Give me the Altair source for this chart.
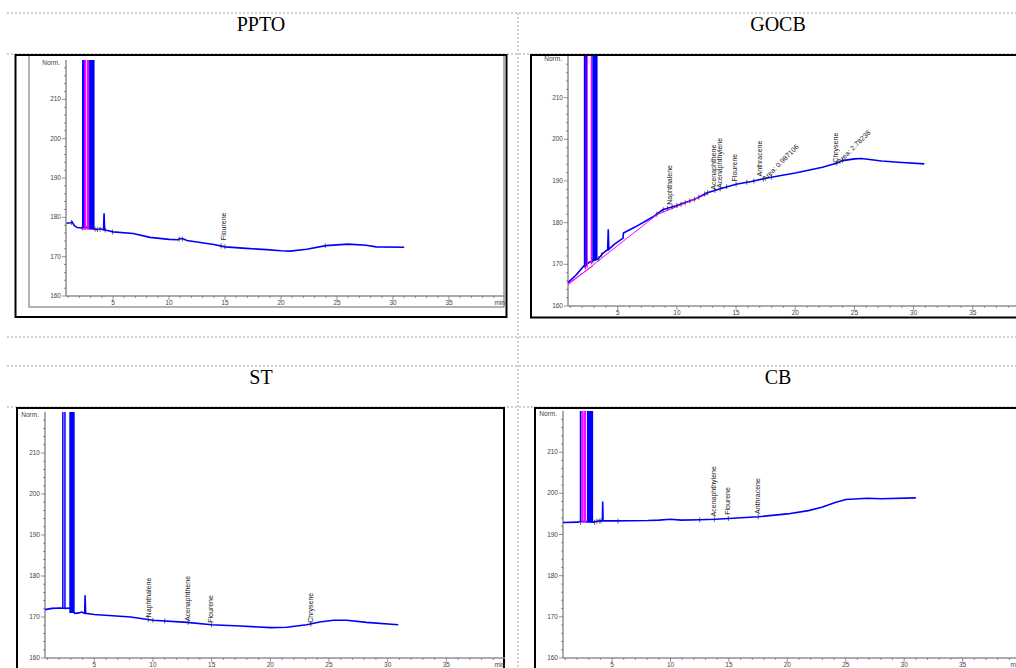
import altair as alt
import pandas as pd

W, H = 1016, 668
BLUE = "#0000ff"
MAGENTA = "#ff00ff"
T_DOMAIN = [0.8, 40]
Y_DOMAIN = [160, 220]

# axis tick positions (minutes / Norm.)
X_MAJOR = [5, 10, 15, 20, 25, 30, 35]
X_MINOR = [m for m in range(1, 41) if m % 5 != 0]
Y_MAJOR = [160, 170, 180, 190, 200, 210]
Y_MINOR = [v for v in range(160, 221, 2) if v % 10 != 0]

# ---------------- PPTO ----------------
ppto_t = [0.85, 1.2, 1.35, 1.55, 1.8, 2.2, 2.6, 3.35, 3.6, 3.9, 4.15, 4.2, 4.25, 4.6, 5.0,
          6.8, 8.3, 10.0, 10.8, 11.0, 11.3, 11.6, 12.8, 14.0, 15.0, 16.9, 18.7, 20.0, 20.8,
          22.3, 24.0, 25.0, 26.0, 27.6, 28.5, 31.0]
ppto_v = [178.5, 178.6, 178.8, 177.9, 177.4, 177.3, 177.5, 177.0, 176.9, 177.1, 176.8, 181.0,
          176.8, 176.6, 176.3, 175.9, 174.9, 174.4, 174.3, 174.6, 174.5, 174.1, 173.6, 173.1,
          172.5, 172.1, 171.8, 171.5, 171.4, 171.9, 172.8, 173.0, 173.2, 172.9, 172.5, 172.4]
ppto_spike_t = [2.30, 2.36]
ppto_spike_base = [177.3, 177.3]
ppto_spike_peak = [300, 300]
ppto_band_t0 = [2.86]
ppto_band_t1 = [3.35]
ppto_band_base = [177.0]
ppto_band_peak = [300]
ppto_mrule_t = [2.46, 2.54, 2.73, 2.82]
ppto_mrule_base = [177.0, 177.0, 177.0, 177.0]
ppto_mrule_peak = [300, 300, 300, 300]
ppto_mline_seg = [0, 0]
ppto_mline_t = [2.25, 3.35]
ppto_mline_v = [177.0, 177.0]
ppto_mark_t = [1.3, 2.25, 3.4, 3.6, 3.85, 4.3, 4.95, 10.9, 11.2, 14.65, 15.0, 23.95]
ppto_mark_v = [178.7, 177.3, 177.0, 176.9, 177.0, 176.8, 176.3, 174.4, 174.5, 172.7, 172.5, 172.8]
ppto_lab = ["Flourene"]
ppto_lab_t = [14.95]
ppto_lab_v = [174.2]
ppto_area = []
ppto_area_t = []
ppto_area_v = []

# ---------------- GOCB ----------------
gocb_t = [0.8, 1.5, 2.1, 2.6, 3.35, 3.7, 4.0, 4.15, 4.2, 4.25, 4.7, 5.45, 5.48, 6.5, 8.1,
          8.8, 10.0, 11.5, 12.5, 13.75, 15.0, 16.3, 17.4, 18.8, 20.0, 22.3, 23.55, 24.0,
          25.0, 25.6, 27.3, 28.7, 30.9]
gocb_v = [165.6, 167.5, 169.5, 170.5, 171.3, 172.5, 173.2, 173.5, 178.4, 173.6, 174.8, 176.3,
          177.5, 179.0, 181.6, 183.1, 184.1, 185.6, 187.1, 188.2, 189.2, 189.9, 190.6, 191.3,
          191.9, 193.3, 194.3, 194.9, 195.3, 195.4, 194.8, 194.5, 194.1]
gocb_spike_t = [2.20, 2.34]
gocb_spike_base = [169.3, 169.6]
gocb_spike_peak = [300, 300]
gocb_band_t0 = [2.85]
gocb_band_t1 = [3.30]
gocb_band_base = [171.0]
gocb_band_peak = [300]
gocb_mrule_t = [2.27, 2.42, 2.78]
gocb_mrule_base = [168.8, 169.2, 170.0]
gocb_mrule_peak = [300, 300, 300]
gocb_mline_seg = [0, 0, 1, 1, 2, 2]
gocb_mline_t = [0.8, 8.3, 0.8, 2.9, 8.3, 12.6]
gocb_mline_v = [165.1, 181.9, 165.4, 169.6, 181.9, 186.9]
gocb_mark_t = [2.9, 3.4, 3.65, 8.3, 8.85, 9.2, 9.6, 10.0, 10.35, 10.7, 11.1, 11.5, 11.85,
               12.35, 12.6, 13.2, 13.65, 14.2, 15.0, 15.9, 16.5, 17.3, 18.0, 23.5, 24.0]
gocb_mark_v = [170.8, 171.4, 172.3, 182.0, 183.1, 183.4, 183.8, 184.1, 184.4, 184.8, 185.2,
               185.6, 186.1, 186.9, 187.2, 187.7, 188.1, 188.6, 189.2, 189.7, 190.0, 190.5,
               190.9, 194.3, 194.9]
gocb_lab = ["Naphthalene", "Acenaphthene", "Acenaphthylene", "Flourene", "Anthracene", "Chrysene"]
gocb_lab_t = [9.4, 13.15, 13.65, 14.9, 17.0, 23.45]
gocb_lab_v = [184.3, 187.9, 188.3, 189.9, 191.1, 194.4]
gocb_area = ["Area: 0.987106", "Area: 2.78238"]
gocb_area_t = [17.35, 23.65]
gocb_area_v = [190.3, 194.4]

# ---------------- ST ----------------
st_t = [0.8, 1.4, 2.1, 2.6, 2.85, 3.35, 3.7, 3.9, 4.18, 4.22, 4.26, 5.0, 8.1, 10.0, 12.9,
        15.0, 17.45, 20.0, 21.4, 23.1, 24.2, 25.4, 26.5, 28.2, 30.9]
st_v = [171.8, 172.1, 172.2, 172.1, 172.2, 170.9, 171.0, 171.2, 170.9, 175.3, 170.9, 170.6,
        170.0, 169.2, 168.7, 168.1, 167.8, 167.4, 167.5, 168.1, 168.8, 169.2, 169.2, 168.7,
        168.1]
st_spike_t = [2.32, 2.50]
st_spike_base = [172.2, 172.1]
st_spike_peak = [300, 300]
st_band_t0 = [2.87]
st_band_t1 = [3.33]
st_band_base = [171.0]
st_band_peak = [300]
st_mrule_t = []
st_mrule_base = []
st_mrule_peak = []
st_mline_seg = []
st_mline_t = []
st_mline_v = []
st_mark_t = [9.6, 10.0, 11.0, 13.0, 15.0, 23.45]
st_mark_v = [169.4, 169.2, 169.0, 168.7, 168.1, 168.3]
st_lab = ["Naphthalene", "Acenaphthene", "Flourene", "Chrysene"]
st_lab_t = [9.63, 12.99, 14.93, 23.47]
st_lab_v = [169.9, 169.0, 168.6, 168.6]
st_area = []
st_area_t = []
st_area_v = []

# ---------------- CB ----------------
cb_t = [0.8, 2.1, 2.3, 3.4, 3.7, 4.0, 4.17, 4.2, 4.23, 5.2, 8.05, 9.0, 10.0, 10.9, 12.5,
        13.8, 15.0, 17.5, 20.0, 21.8, 22.95, 24.1, 25.0, 26.9, 28.0, 31.0]
cb_v = [192.9, 193.0, 193.2, 193.0, 193.2, 193.3, 193.3, 198.0, 193.3, 193.3, 193.4, 193.5,
        193.7, 193.5, 193.6, 193.7, 193.9, 194.3, 195.0, 195.8, 196.6, 197.8, 198.5, 198.8,
        198.7, 198.9]
cb_spike_t = [2.30]
cb_spike_base = [193.0]
cb_spike_peak = [300]
cb_band_t0 = [2.85]
cb_band_t1 = [3.38]
cb_band_base = [193.0]
cb_band_peak = [300]
cb_mrule_t = [2.42, 2.50, 2.62, 2.72]
cb_mrule_base = [193.0, 193.0, 193.0, 193.0]
cb_mrule_peak = [300, 300, 300, 300]
cb_mline_seg = []
cb_mline_t = []
cb_mline_v = []
cb_mark_t = [2.3, 3.5, 3.7, 3.9, 4.05, 5.5, 12.5, 13.75, 14.95, 17.5]
cb_mark_v = [193.0, 193.0, 193.2, 193.3, 193.3, 193.3, 193.6, 193.7, 193.9, 194.3]
cb_lab = ["Acenaphthylene", "Flourene", "Anthracene"]
cb_lab_t = [13.74, 14.94, 17.5]
cb_lab_v = [194.4, 194.8, 195.0]
cb_area = []
cb_area_t = []
cb_area_v = []

PANELS = {
    "PPTO": dict(t=ppto_t, v=ppto_v, st=ppto_spike_t, sb=ppto_spike_base, sp=ppto_spike_peak,
                 b0=ppto_band_t0, b1=ppto_band_t1, bb=ppto_band_base, bp=ppto_band_peak,
                 mt=ppto_mrule_t, mb=ppto_mrule_base, mp=ppto_mrule_peak,
                 ls=ppto_mline_seg, lt=ppto_mline_t, lv=ppto_mline_v,
                 kt=ppto_mark_t, kv=ppto_mark_v,
                 lab=ppto_lab, lab_t=ppto_lab_t, lab_v=ppto_lab_v,
                 area=ppto_area, area_t=ppto_area_t, area_v=ppto_area_v),
    "GOCB": dict(t=gocb_t, v=gocb_v, st=gocb_spike_t, sb=gocb_spike_base, sp=gocb_spike_peak,
                 b0=gocb_band_t0, b1=gocb_band_t1, bb=gocb_band_base, bp=gocb_band_peak,
                 mt=gocb_mrule_t, mb=gocb_mrule_base, mp=gocb_mrule_peak,
                 ls=gocb_mline_seg, lt=gocb_mline_t, lv=gocb_mline_v,
                 kt=gocb_mark_t, kv=gocb_mark_v,
                 lab=gocb_lab, lab_t=gocb_lab_t, lab_v=gocb_lab_v,
                 area=gocb_area, area_t=gocb_area_t, area_v=gocb_area_v),
    "ST": dict(t=st_t, v=st_v, st=st_spike_t, sb=st_spike_base, sp=st_spike_peak,
               b0=st_band_t0, b1=st_band_t1, bb=st_band_base, bp=st_band_peak,
               mt=st_mrule_t, mb=st_mrule_base, mp=st_mrule_peak,
               ls=st_mline_seg, lt=st_mline_t, lv=st_mline_v,
               kt=st_mark_t, kv=st_mark_v,
               lab=st_lab, lab_t=st_lab_t, lab_v=st_lab_v,
               area=st_area, area_t=st_area_t, area_v=st_area_v),
    "CB": dict(t=cb_t, v=cb_v, st=cb_spike_t, sb=cb_spike_base, sp=cb_spike_peak,
               b0=cb_band_t0, b1=cb_band_t1, bb=cb_band_base, bp=cb_band_peak,
               mt=cb_mrule_t, mb=cb_mrule_base, mp=cb_mrule_peak,
               ls=cb_mline_seg, lt=cb_mline_t, lv=cb_mline_v,
               kt=cb_mark_t, kv=cb_mark_v,
               lab=cb_lab, lab_t=cb_lab_t, lab_v=cb_lab_v,
               area=cb_area, area_t=cb_area_t, area_v=cb_area_v),
}

# Page layout (pixels): plot range of each chromatogram, title centre, image frame,
# and whether the "min" unit at the end of the time axis falls on the page
LAYOUT = {
    "PPTO": dict(xr=[66, 505], yr=[296, 60], title=(261, 25), frame=(15.5, 506.5, 55, 317), unit=True),
    "GOCB": dict(xr=[568, 1032], yr=[306, 56], title=(778, 25), frame=(531, 1040, 55, 317.5), unit=False),
    "ST": dict(xr=[45, 505], yr=[658, 412], title=(261, 378), frame=(17, 504, 408, 700), unit=True),
    "CB": dict(xr=[563, 1021], yr=[658, 411], title=(778, 378), frame=(535, 1040, 408, 700), unit=True),
}
TABLE_ROWS = [13, 54, 337, 366, 407]
TABLE_COL = 518
TABLE_LEFT = 7

FONT = "Liberation Sans"
AXIS_GREY = "#8f8f8f"
TICK_GREY = "#666666"
LABEL_GREY = "#444444"


def panel(name):
    d = PANELS[name]
    lay = LAYOUT[name]
    xs = alt.Scale(domain=T_DOMAIN, range=lay["xr"], clamp=True, nice=False, zero=False)
    ys = alt.Scale(domain=Y_DOMAIN, range=lay["yr"], clamp=True, nice=False, zero=False)

    def X(f):
        return alt.X(f, type="quantitative", scale=xs, axis=None)

    def Y(f):
        return alt.Y(f, type="quantitative", scale=ys, axis=None)

    t0, t1 = T_DOMAIN
    v0, v1 = Y_DOMAIN
    layers = []

    # ---- axes: domain lines, ticks and tick labels
    dom = pd.DataFrame({"ta": [t0, t0], "tb": [t1, t0], "va": [v0, v0], "vb": [v0, v1]})
    layers.append(alt.Chart(dom).mark_rule(color=AXIS_GREY, strokeWidth=1.5).encode(
        x=X("ta"), x2="tb:Q", y=Y("va"), y2="vb:Q"))

    xmaj = pd.DataFrame({"t": X_MAJOR, "v": [v0] * len(X_MAJOR),
                         "lab": [str(m) for m in X_MAJOR]})
    xmin = pd.DataFrame({"t": X_MINOR, "v": [v0] * len(X_MINOR)})
    ymaj = pd.DataFrame({"t": [t0] * len(Y_MAJOR), "v": Y_MAJOR,
                         "lab": [str(m) for m in Y_MAJOR]})
    ymin = pd.DataFrame({"t": [t0] * len(Y_MINOR), "v": Y_MINOR})
    layers.append(alt.Chart(xmaj).mark_tick(orient="vertical", size=4, thickness=1,
                                            yOffset=2, color=TICK_GREY).encode(x=X("t"), y=Y("v")))
    layers.append(alt.Chart(xmin).mark_tick(orient="vertical", size=2, thickness=1,
                                            yOffset=1, color=TICK_GREY).encode(x=X("t"), y=Y("v")))
    layers.append(alt.Chart(ymaj).mark_tick(orient="horizontal", size=4, thickness=1,
                                            xOffset=-2, color=TICK_GREY).encode(x=X("t"), y=Y("v")))
    layers.append(alt.Chart(ymin).mark_tick(orient="horizontal", size=2, thickness=1,
                                            xOffset=-1, color=TICK_GREY).encode(x=X("t"), y=Y("v")))
    layers.append(alt.Chart(xmaj).mark_text(font=FONT, fontSize=6.5, color=LABEL_GREY,
                                            align="center", baseline="middle", dy=7).encode(
        x=X("t"), y=Y("v"), text="lab:N"))
    layers.append(alt.Chart(ymaj).mark_text(font=FONT, fontSize=6.5, color=LABEL_GREY,
                                            align="right", baseline="middle", dx=-5).encode(
        x=X("t"), y=Y("v"), text="lab:N"))
    if lay["unit"]:
        unit_x = pd.DataFrame({"t": [t1], "v": [v0], "lab": ["min"]})
        layers.append(alt.Chart(unit_x).mark_text(font=FONT, fontSize=6.5, color=LABEL_GREY,
                                                  align="right", baseline="middle", dy=7).encode(
            x=X("t"), y=Y("v"), text="lab:N"))
    unit_y = pd.DataFrame({"t": [t0], "v": [v1], "lab": ["Norm."]})
    layers.append(alt.Chart(unit_y).mark_text(font=FONT, fontSize=6.5, color=LABEL_GREY,
                                              align="right", baseline="middle", dx=-6, dy=3).encode(
        x=X("t"), y=Y("v"), text="lab:N"))

    # ---- signal
    trace = pd.DataFrame({"t": d["t"], "v": d["v"]})
    layers.append(alt.Chart(trace).mark_line(color=BLUE, strokeWidth=1.6).encode(
        x=X("t"), y=Y("v")))

    if d["ls"]:
        ml = pd.DataFrame({"seg": d["ls"], "t": d["lt"], "v": d["lv"]})
        layers.append(alt.Chart(ml).mark_line(color=MAGENTA, strokeWidth=1).encode(
            x=X("t"), y=Y("v"), detail="seg:N"))

    if d["mt"]:
        mr = pd.DataFrame({"t": d["mt"], "b": d["mb"], "p": d["mp"]})
        layers.append(alt.Chart(mr).mark_rule(color=MAGENTA, strokeWidth=1.3).encode(
            x=X("t"), y=Y("b"), y2="p:Q"))

    sp = pd.DataFrame({"t": d["st"], "b": d["sb"], "p": d["sp"]})
    layers.append(alt.Chart(sp).mark_rule(color=BLUE, strokeWidth=1.5).encode(
        x=X("t"), y=Y("b"), y2="p:Q"))

    bd = pd.DataFrame({"t0": d["b0"], "t1": d["b1"], "b": d["bb"], "p": d["bp"]})
    layers.append(alt.Chart(bd).mark_rect(color=BLUE).encode(
        x=X("t0"), x2="t1:Q", y=Y("b"), y2="p:Q"))

    mk = pd.DataFrame({"t": d["kt"], "v": d["kv"]})
    layers.append(alt.Chart(mk).mark_tick(orient="vertical", size=5, thickness=1,
                                          color="#222222").encode(x=X("t"), y=Y("v")))

    lb = pd.DataFrame({"name": d["lab"], "t": d["lab_t"], "v": d["lab_v"]})
    layers.append(alt.Chart(lb).mark_text(angle=270, align="left", baseline="middle",
                                          font=FONT, fontSize=7, color="#222222").encode(
        x=X("t"), y=Y("v"), text="name:N"))

    if d["area"]:
        ar = pd.DataFrame({"name": d["area"], "t": d["area_t"], "v": d["area_v"]})
        layers.append(alt.Chart(ar).mark_text(angle=315, align="left", baseline="middle",
                                              font=FONT, fontSize=7, color="#222222").encode(
            x=X("t"), y=Y("v"), text="name:N"))

    return alt.layer(*layers)


# ---- table grid, image frames and cell titles
px = dict(scale=None, axis=None)
grid_rows = pd.DataFrame({"x": [TABLE_LEFT] * len(TABLE_ROWS), "x2": [W] * len(TABLE_ROWS),
                          "y": TABLE_ROWS, "y2": TABLE_ROWS})
grid_cols = pd.DataFrame({"x": [TABLE_COL], "x2": [TABLE_COL], "y": [TABLE_ROWS[0]], "y2": [H]})
grid = pd.concat([grid_rows, grid_cols], ignore_index=True)
grid_layer = alt.Chart(grid).mark_rule(color="#a0a0a0", strokeWidth=1, strokeDash=[2, 2]).encode(
    x=alt.X("x:Q", **px), x2="x2:Q", y=alt.Y("y:Q", **px), y2="y2:Q")

frames = pd.DataFrame([dict(x=f[0], x2=f[1], y=f[2], y2=f[3])
                       for f in (LAYOUT[k]["frame"] for k in LAYOUT)])
frame_layer = alt.Chart(frames).mark_rect(fill="transparent", stroke="black", strokeWidth=2).encode(
    x=alt.X("x:Q", **px), x2="x2:Q", y=alt.Y("y:Q", **px), y2="y2:Q")

inner = pd.DataFrame({"x": [29], "x2": [504], "y": [55], "y2": [307]})
inner_layer = alt.Chart(inner).mark_rect(fill="transparent", stroke="#9a9a9a", strokeWidth=1.5).encode(
    x=alt.X("x:Q", **px), x2="x2:Q", y=alt.Y("y:Q", **px), y2="y2:Q")

titles = pd.DataFrame({"name": list(LAYOUT.keys()),
                       "x": [LAYOUT[k]["title"][0] for k in LAYOUT],
                       "y": [LAYOUT[k]["title"][1] for k in LAYOUT]})
title_layer = alt.Chart(titles).mark_text(font="Liberation Serif", fontSize=20, color="black",
                                          align="center", baseline="middle").encode(
    x=alt.X("x:Q", **px), y=alt.Y("y:Q", **px), text="name:N")

chart = alt.layer(
    grid_layer, inner_layer, frame_layer, title_layer,
    panel("PPTO"), panel("GOCB"), panel("ST"), panel("CB"),
).resolve_scale(x="independent", y="independent").properties(
    width=W, height=H, padding=0, autosize=alt.AutoSizeParams(type="none"),
    background="white",
).configure_view(stroke=None)

chart.save("out.html", embed_options={"renderer": "svg", "actions": False})
